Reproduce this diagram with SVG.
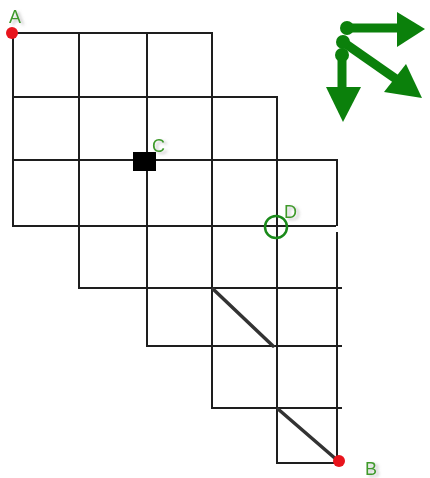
<svg xmlns="http://www.w3.org/2000/svg" width="430" height="478" viewBox="0 0 430 478">
  <defs>
    <style>
      .grid line { stroke: #1e1e1e; stroke-width: 2; stroke-linecap: square; }
      .diag { stroke: #333333; stroke-width: 3.5; stroke-linecap: round; }
      .lbl { font-family: "Liberation Sans", Arial, sans-serif; font-size: 18px; fill: #3f9a2a; filter: url(#shadow); }
      .pt { fill: #e8141c; }
      .icon { stroke: #0b800b; stroke-width: 9; fill: none; }
      .iconf { fill: #0b800b; }
    </style>
    <filter id="shadow" x="-50%" y="-50%" width="200%" height="200%">
      <feDropShadow dx="3" dy="2" stdDeviation="1.5" flood-color="#888888" flood-opacity="0.5"/>
    </filter>
  </defs>
  <rect width="430" height="478" fill="#ffffff"/>

  <g id="grid" class="grid">
    <line x1="13" y1="33" x2="212" y2="33"/>
    <line x1="13" y1="97" x2="277" y2="97"/>
    <line x1="13" y1="160" x2="337" y2="160"/>
    <line x1="13" y1="226" x2="335" y2="226"/>
    <line x1="79" y1="288" x2="341" y2="288"/>
    <line x1="147" y1="346" x2="341" y2="346"/>
    <line x1="212" y1="408" x2="341" y2="408"/>
    <line x1="277" y1="463" x2="338" y2="463"/>
    <line x1="13" y1="33" x2="13" y2="226"/>
    <line x1="79" y1="33" x2="79" y2="288"/>
    <line x1="147" y1="33" x2="147" y2="346"/>
    <line x1="212" y1="33" x2="212" y2="408"/>
    <line x1="277" y1="97" x2="277" y2="463"/>
    <line x1="337" y1="160" x2="337" y2="225"/>
    <line x1="337" y1="233" x2="337" y2="463"/>
  </g>

  <g id="connectors">
    <line class="diag" x1="213" y1="289" x2="273" y2="346"/>
    <line class="diag" x1="278" y1="409" x2="337" y2="460"/>
  </g>

  <g id="node-A">
    <circle class="pt" cx="12" cy="33" r="6"/>
    <text class="lbl" x="9" y="23">A</text>
  </g>
  <g id="node-B">
    <circle class="pt" cx="339" cy="461" r="6"/>
    <text class="lbl" x="365" y="475">B</text>
  </g>
  <g id="node-C">
    <rect x="133" y="152" width="23" height="19" fill="#000000"/>
    <text class="lbl" x="152" y="152">C</text>
  </g>
  <g id="node-D">
    <circle cx="276" cy="227" r="11" fill="none" stroke="#1a8a1a" stroke-width="2.5"/>
    <text class="lbl" x="284" y="218">D</text>
  </g>

  <g id="icon">
    <line class="icon" x1="347" y1="28" x2="399" y2="28"/>
    <polygon class="iconf" points="397,12 425,29 397,47"/>
    <line class="icon" x1="343" y1="42" x2="396" y2="79"/>
    <polygon class="iconf" points="384,92 406,64 422,98"/>
    <line class="icon" x1="342" y1="55" x2="342" y2="90"/>
    <polygon class="iconf" points="326,87 361,87 343,122"/>
    <circle class="iconf" cx="347" cy="28" r="7"/>
    <circle class="iconf" cx="343" cy="42" r="7"/>
    <circle class="iconf" cx="342" cy="55" r="7"/>
  </g>
</svg>
